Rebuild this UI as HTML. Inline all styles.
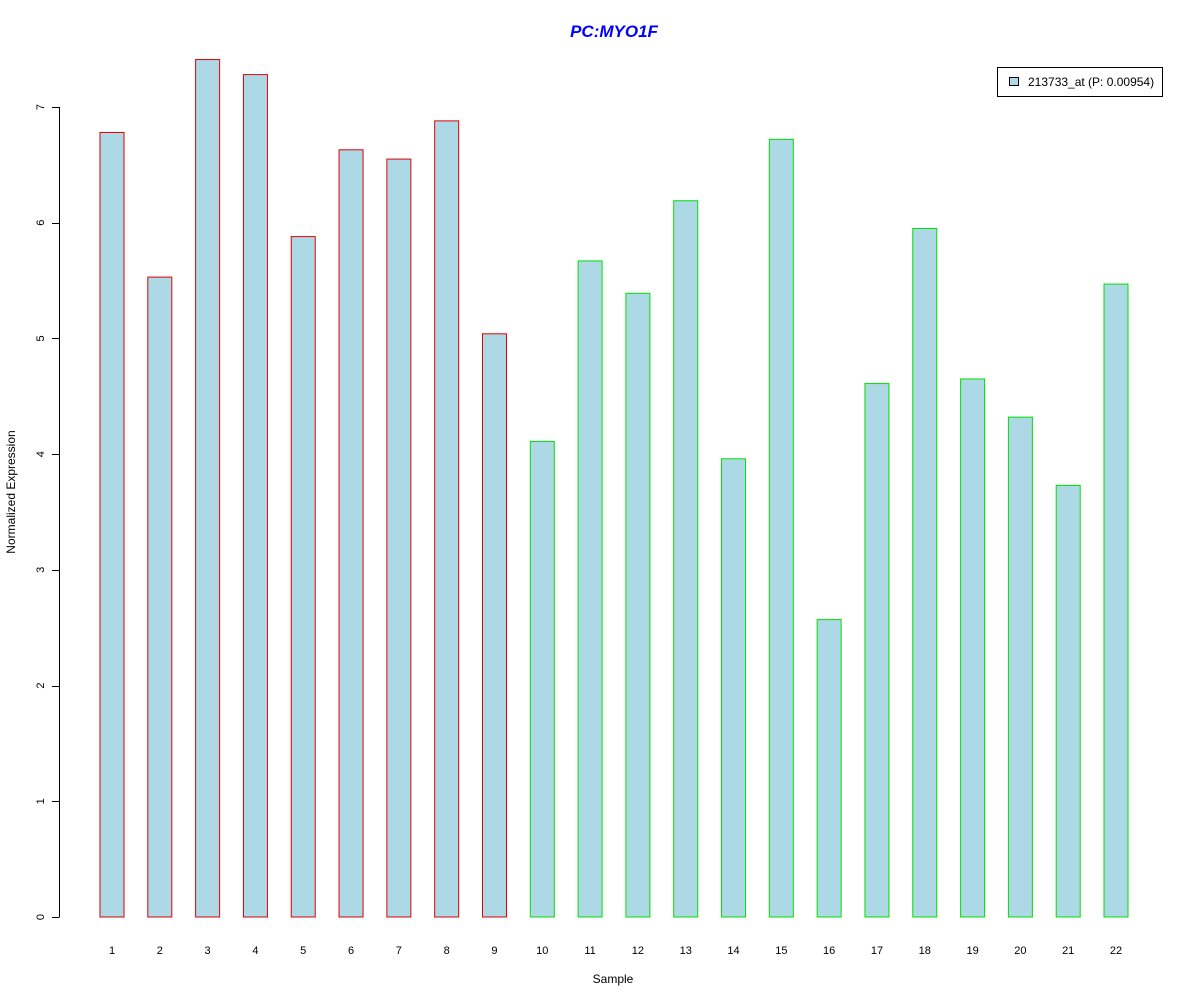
<!DOCTYPE html>
<html><head><meta charset="utf-8"><style>body{margin:0;background:#fff}svg{display:block}text{font-family:"Liberation Sans",sans-serif}</style></head>
<body>
<svg id="chart" width="1200" height="1000" xmlns="http://www.w3.org/2000/svg">
<text x="614" y="37" text-anchor="middle" font-size="17" font-weight="bold" font-style="italic" fill="#0000ff">PC:MYO1F</text>
<text x="613" y="983" text-anchor="middle" font-size="12">Sample</text>
<text transform="translate(15,492) rotate(-90)" text-anchor="middle" font-size="12">Normalized Expression</text>
<g id="yaxis"></g>
<g id="bars"></g>
<g id="xlabels"></g>
<g>
<rect x="997.5" y="67.5" width="165" height="29" fill="#fff" stroke="#000"/>
<rect x="1009.5" y="77.5" width="9" height="8" fill="#add8e6" stroke="#000"/>
<text x="1028" y="86" font-size="12">213733_at (P: 0.00954)</text>
</g>
</svg>
<script>
const categories=["1","2","3","4","5","6","7","8","9","10","11","12","13","14","15","16","17","18","19","20","21","22"];
const values=[6.78,5.53,7.41,7.28,5.88,6.63,6.55,6.88,5.04,4.11,5.67,5.39,6.19,3.96,6.72,2.57,4.61,5.95,4.65,4.32,3.73,5.47];
const groups=["r","r","r","r","r","r","r","r","r","g","g","g","g","g","g","g","g","g","g","g","g","g"];
const yTicks=[0,1,2,3,4,5,6,7];
const NS="http://www.w3.org/2000/svg";
const y=v=>917-v*(810/7);
const xc=i=>112+i*47.81;
function mk(t,a,p){const e=document.createElementNS(NS,t);for(const k in a)e.setAttribute(k,a[k]);p.appendChild(e);return e;}
const ya=document.getElementById('yaxis');
const axl=mk('line',{x1:59.5,x2:59.5,y1:y(0),y2:y(7),stroke:'#000'},ya);


yTicks.forEach(t=>{
 const l=mk('line',{x1:52,x2:59.5,y1:Math.round(y(t))+0.5,y2:Math.round(y(t))+0.5,stroke:'#000'},ya);
 
 
 const tx=mk('text',{transform:`translate(44,${y(t)}) rotate(-90)`,'text-anchor':'middle','font-size':11},ya);
 
 
 tx.textContent=t;
});
const bg=document.getElementById('bars'),xl=document.getElementById('xlabels');
values.forEach((v,i)=>{
 const r=mk('rect',{x:xc(i)-12,y:y(v),width:24,height:y(0)-y(v),fill:'#add8e6',stroke:groups[i]==='r'?'#e00000':'#00e000'},bg);
 
 
 const t=mk('text',{x:xc(i),y:954,'text-anchor':'middle','font-size':11},xl);
 
 
 t.textContent=categories[i];
});
</script>
</body></html>
